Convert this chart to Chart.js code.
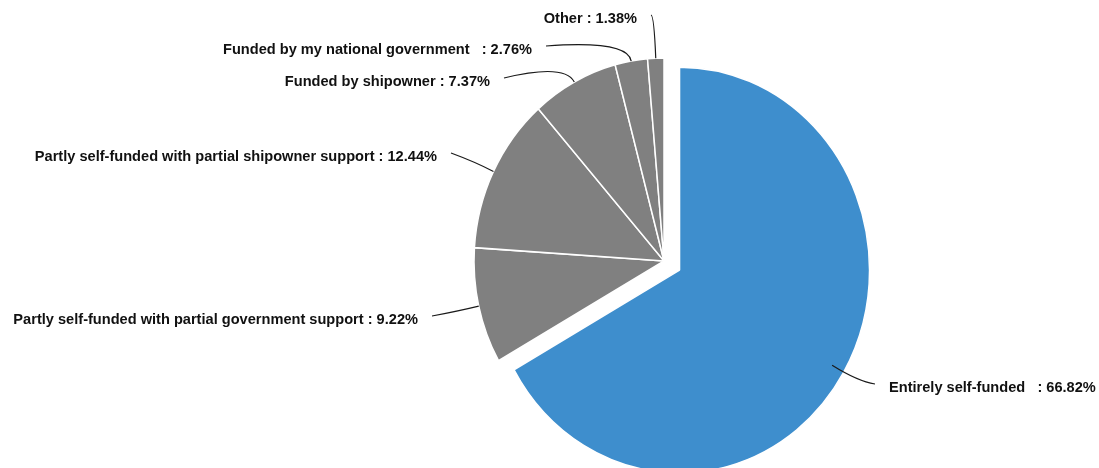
<!DOCTYPE html>
<html>
<head>
<meta charset="utf-8">
<script src="https://cdn.jsdelivr.net/npm/chart.js@4/dist/chart.umd.min.js"></script>
<style>
  body { margin: 0; background: #fff; }
  #wrap { width: 1099px; height: 468px; position: relative; }
</style>
</head>
<body>
<div id="wrap"><canvas id="pie"></canvas></div>
<script>
// Funding source shares (%), clockwise from 12 o'clock
const categories = [
    'Entirely self-funded  ',
    'Partly self-funded with partial government support',
    'Partly self-funded with partial shipowner support',
    'Funded by shipowner',
    'Funded by my national government  ',
    'Other'
];
const shares = [66.82, 9.22, 12.44, 7.37, 2.76, 1.38];
const sliceColors = ['#3E8ECD', '#808080', '#808080', '#808080', '#808080', '#808080'];
const explode = [18, 0, 0, 0, 0, 0];

// where each label text sits (x, y of text middle, alignment) - layout only
const labelAt = [
    { x: 889, y: 388, align: 'left' },
    { x: 418, y: 320, align: 'right' },
    { x: 437, y: 157, align: 'right' },
    { x: 490, y: 82, align: 'right' },
    { x: 532, y: 50, align: 'right' },
    { x: 637, y: 19, align: 'right' }
];

const RADIUS = 190;
const STRETCH_Y = 203 / 190;   // pie is slightly taller than wide

// pull the exploded slice out (chart.js offset also grows the radius, so shift it by hand)
// and squash the pie into the same slightly tall ellipse
const ellipsePlugin = {
    id: 'ellipse',
    beforeDatasetsDraw(chart) {
        const meta = chart.getDatasetMeta(0);
        const base = meta.data[1];
        meta.data.forEach((arc, i) => {
            const mid = (arc.startAngle + arc.endAngle) / 2;
            arc.x = base.x + Math.cos(mid) * explode[i];
            arc.y = base.y + Math.sin(mid) * explode[i] / STRETCH_Y;
        });
        const ctx = chart.ctx;
        ctx.save();
        ctx.translate(base.x, base.y);
        ctx.scale(1, STRETCH_Y);
        ctx.translate(-base.x, -base.y);
    },
    afterDatasetsDraw(chart) {
        chart.ctx.restore();
    }
};

// outside labels with curved leader lines
const leaderLabels = {
    id: 'leaderLabels',
    afterDraw(chart) {
        const ctx = chart.ctx;
        const meta = chart.getDatasetMeta(0);
        const base = meta.data[1];
        ctx.save();
        ctx.font = 'bold 14.6px "Liberation Sans", Arial, sans-serif';
        ctx.textBaseline = 'middle';
        meta.data.forEach((arc, i) => {
            const p = arc.getProps(['x', 'y', 'startAngle', 'endAngle', 'outerRadius'], true);
            const mid = (p.startAngle + p.endAngle) / 2;
            const k = explode[i] > 0 ? 0.93 : 1;
            const dx = Math.cos(mid), dy = Math.sin(mid);
            const sx = p.x + dx * p.outerRadius * k;
            const sy = base.y + (p.y - base.y + dy * p.outerRadius * k) * STRETCH_Y;
            const lab = labelAt[i];
            const ex = lab.align === 'right' ? lab.x + 14 : lab.x - 14;
            const ey = lab.y - 4;
            const reach = explode[i] > 0 ? 30 : (i === 5 ? 40 : 20);
            const cx = sx + dx * reach;
            const cy = sy + dy * reach * STRETCH_Y;

            ctx.beginPath();
            ctx.moveTo(sx, sy);
            ctx.quadraticCurveTo(cx, cy, ex, ey);
            ctx.strokeStyle = '#1a1a1a';
            ctx.lineWidth = 1.2;
            ctx.stroke();

            ctx.fillStyle = '#111';
            ctx.textAlign = lab.align;
            ctx.fillText(categories[i] + ' : ' + shares[i].toFixed(2) + '%', lab.x, lab.y);
        });
        ctx.restore();
    }
};

new Chart(document.getElementById('pie'), {
    type: 'pie',
    data: {
        labels: categories,
        datasets: [{
            data: shares,
            backgroundColor: sliceColors,
            borderColor: '#ffffff',
            borderWidth: 1.5,
            clip: false
        }]
    },
    options: {
        responsive: true,
        maintainAspectRatio: false,
        animation: false,
        radius: RADIUS,
        layout: { padding: { left: 229, right: 0, top: 54, bottom: 0 } },
        plugins: {
            legend: { display: false },
            tooltip: { enabled: false }
        }
    },
    plugins: [ellipsePlugin, leaderLabels]
});
</script>
</body>
</html>
